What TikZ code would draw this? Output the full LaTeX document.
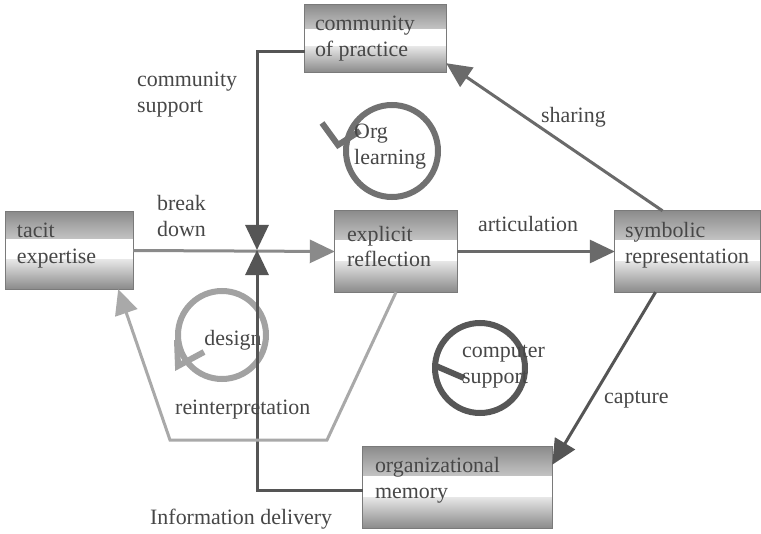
\documentclass[tikz,border=0pt]{standalone}
\usepackage{fontspec}
\setmainfont{Liberation Serif}
\usetikzlibrary{arrows.meta,calc}
\definecolor{txt}{HTML}{474747}
\definecolor{bxtop}{HTML}{8C8C8C}
\definecolor{bxmid}{HTML}{C4C4C4}
\definecolor{bxmidb}{HTML}{E6E6E6}
\definecolor{bxbot}{HTML}{8A8A8A}
\definecolor{bxline}{HTML}{7A7A7A}
\definecolor{cmed}{HTML}{8A8A8A}
\definecolor{cdark}{HTML}{555555}
\definecolor{cdarkb}{HTML}{6A6A6A}
\definecolor{clight}{HTML}{A9A9A9}
\definecolor{corg}{HTML}{717171}
\definecolor{cdes}{HTML}{A2A2A2}
\definecolor{ccomp}{HTML}{575757}
\newcommand{\myshadebox}[1]{%
  \path[top color=bxtop, bottom color=bxmid] (#1.north west) rectangle ($(#1.north east)!0.36!(#1.south east)$);
  \fill[white] ($(#1.north west)!0.355!(#1.south west)$) rectangle ($(#1.north east)!0.625!(#1.south east)$);
  \path[top color=bxmidb, bottom color=bxbot] ($(#1.north west)!0.62!(#1.south west)$) rectangle (#1.south east);
  \draw[bxline, line width=1bp] (#1.north west) rectangle (#1.south east);}
\tikzset{
  boxnode/.style={rectangle, inner sep=0pt},
  boxtxt/.style={align=left, inner sep=0pt, text=txt, font=\fontsize{22}{26}\selectfont},
  lbl/.style={align=left, inner sep=0pt, text=txt, font=\fontsize{22}{26}\selectfont},
  conn/.style={line width=3bp},
  tip/.style={-{Triangle[length=25bp,width=23bp]}},
  ring/.style={line width=6bp}
}
\begin{document}
\begin{tikzpicture}[x=1bp,y=-1bp]
\useasboundingbox[fill=white] (0,0) rectangle (761,534);

% boxes
\node[boxnode, minimum width=141bp, minimum height=67bp] (cop) at (375.5,38.5) {};
\node[boxnode, minimum width=127bp, minimum height=77bp] (tac) at (69.5,250.5) {};
\node[boxnode, minimum width=122bp, minimum height=81bp] (exp) at (396,251.5) {};
\node[boxnode, minimum width=145bp, minimum height=81bp] (sym) at (687.5,251.5) {};
\node[boxnode, minimum width=189bp, minimum height=81bp] (om) at (457.5,487.5) {};
\myshadebox{cop}
\myshadebox{tac}
\myshadebox{exp}
\myshadebox{sym}
\myshadebox{om}

\node[boxtxt, anchor=west] (copT) at ([xshift=10bp,yshift=0bp]cop.west) {community\\of practice};
\node[boxtxt, anchor=west] (tacT) at ([xshift=11bp,yshift=5bp]tac.west) {tacit\\expertise};
\node[boxtxt, anchor=west] (expT) at ([xshift=12bp,yshift=5bp]exp.west) {explicit\\reflection};
\node[boxtxt, anchor=west] (symT) at ([xshift=10bp,yshift=6bp]sym.west) {symbolic\\representation};
\node[boxtxt, anchor=west] (omT) at ([xshift=12bp,yshift=7bp]om.west) {organizational\\memory};

% circles
\coordinate (cOrg) at (392,151);
\draw[ring, corg] (cOrg) circle[radius=46bp];
\draw[ring, corg, line join=miter] (322,123) -- (338,145) -- (360,131);
\node[lbl, anchor=west] (orgT) at (354,147) {Org\\learning};

\coordinate (cDes) at (222,335);
\draw[ring, cdes] (cDes) circle[radius=44bp];
\draw[ring, cdes, line join=miter] (177,340) -- (178,366) -- (204,352);
\node[lbl] (desT) at (233,340) {design};

\coordinate (cComp) at (480,368);
\draw[ring, ccomp] (cComp) circle[radius=45bp];
\draw[ring, ccomp] (436,366) -- (464,378);
\node[lbl, anchor=west] (compT) at (462,367) {computer\\support};

% connectors
\coordinate (J) at (257,250);
\draw[conn, cmed, tip] (tac.east) -- (exp.west);
\draw[conn, cdarkb, tip] (exp.east) -- (sym.west);
\draw[conn, cdark, tip] ([yshift=-13.5bp]cop.west) -| (J);
\draw[conn, cdark, tip] ([yshift=-3bp]om.west) -| (J);
\draw[conn, cdarkb, tip] ([xshift=-25bp]sym.north) -- ([yshift=9bp]cop.south east);
\draw[conn, cdark, tip] ([xshift=-32bp]sym.south) -- ([yshift=-18bp]om.north east);
\coordinate (r1) at (327,440);
\coordinate (r2) at (170,440);
\draw[conn, clight, tip] (exp.south) -- (r1) -- (r2) -- ([xshift=-15bp]tac.south east);

% labels
\node[lbl, anchor=west] (lcs) at (137,95) {community\\support};
\node[lbl, anchor=west] (lbd) at (157,216) {break\\down};
\node[lbl, anchor=west] (lsh) at (541,117) {sharing};
\node[lbl, anchor=west] (lar) at (478,224) {articulation};
\node[lbl, anchor=west] (lca) at (604,400) {capture};
\node[lbl, anchor=west] (lre) at (175,410) {reinterpretation};
\node[lbl, anchor=west] (lid) at (150,519) {Information delivery};
\end{tikzpicture}
\end{document}
